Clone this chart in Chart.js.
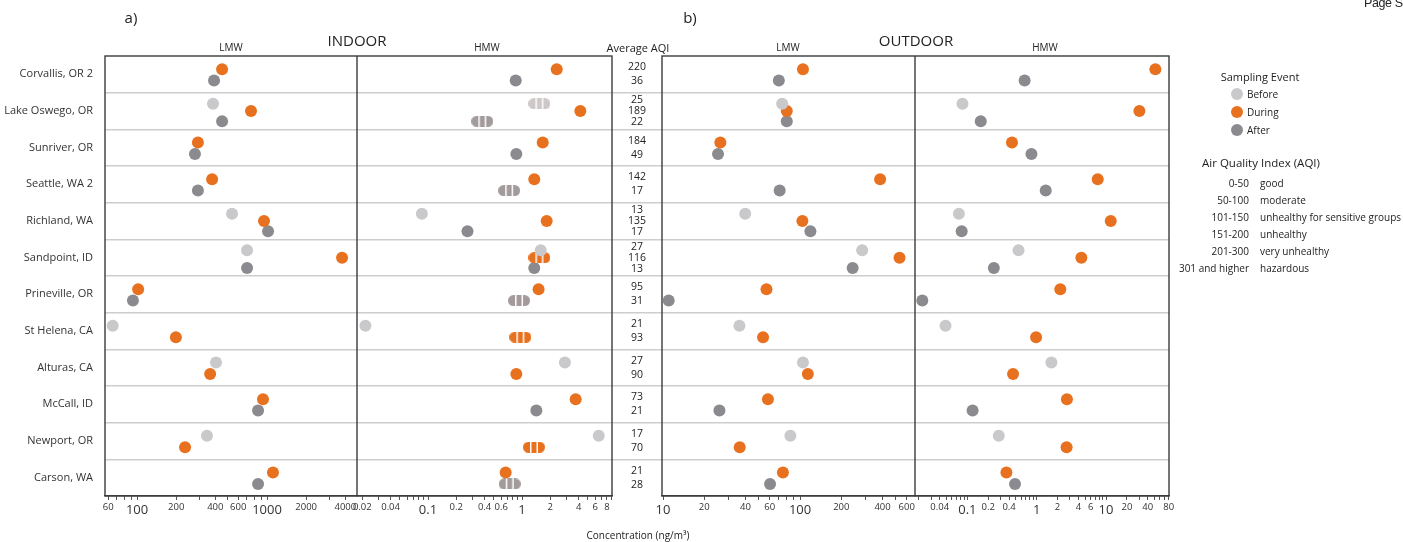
<!DOCTYPE html>
<html>
<head>
<meta charset="utf-8">
<script src="https://cdn.jsdelivr.net/npm/chart.js@4.4.1/dist/chart.umd.min.js"></script>
<style>
  body { margin: 0; background: #fff; font-family: "Open Sans", sans-serif; color: #222; }
  #wrap { position: relative; width: 1403px; height: 542px; overflow: hidden; }
  #wrap canvas { position: absolute; left: 0; top: 0; }
  .t { position: absolute; white-space: nowrap; line-height: 1; transform: translate(-50%, -50%); }
  .l { position: absolute; white-space: nowrap; line-height: 1; transform: translateY(-50%); }
  .r { position: absolute; white-space: nowrap; line-height: 1; transform: translate(-100%, -50%); }
  .dot { position: absolute; width: 12px; height: 12px; border-radius: 50%; transform: translate(-50%, -50%); }
</style>
</head>
<body>
<div id="wrap">
  <canvas id="chart" width="1403" height="542"></canvas>
  <div class="l" style="left:1364px;top:3px;font-size:12.5px;letter-spacing:-0.4px;font-family:Arial">Page S2</div>
  <div class="t" style="left:131px;top:17px;font-size:15px">a)</div>
  <div class="t" style="left:690px;top:17px;font-size:15px">b)</div>
  <div class="t" style="left:357px;top:40px;font-size:15px">INDOOR</div>
  <div class="t" style="left:916px;top:40px;font-size:15px">OUTDOOR</div>
  <div class="t" style="left:231px;top:47px;font-size:10px">LMW</div>
  <div class="t" style="left:487px;top:47px;font-size:10px">HMW</div>
  <div class="t" style="left:638px;top:47px;font-size:11px">Average AQI</div>
  <div class="t" style="left:788px;top:47px;font-size:10px">LMW</div>
  <div class="t" style="left:1045px;top:47px;font-size:10px">HMW</div>
  <div class="t" style="left:638px;top:535px;font-size:10px">Concentration (ng/m³)</div>
  <div class="t" style="left:1260px;top:76px;font-size:11px">Sampling Event</div>
  <div class="t" style="left:1261px;top:163px;font-size:11.5px">Air Quality Index (AQI)</div>
  <div id="legend"></div>
</div>
<script>
// sites, top to bottom
const sites = ['Corvallis, OR 2', 'Lake Oswego, OR', 'Sunriver, OR', 'Seattle, WA 2', 'Richland, WA', 'Sandpoint, ID',
  'Prineville, OR', 'St Helena, CA', 'Alturas, CA', 'McCall, ID', 'Newport, OR', 'Carson, WA'];

// average AQI per sampling event (null = not sampled)
const aqiBefore = [null, 25, null, null, 13, 27, null, 21, 27, null, 17, null];
const aqiDuring = [220, 189, 184, 142, 135, 116, 95, 93, 90, 73, 70, 21];
const aqiAfter  = [36, 22, 49, 17, 17, 13, 31, null, null, 21, null, 28];

// indoor LMW (ng/m3)
const indoorLmwBefore = [null, 384, null, null, 538, 702, null, 65, 405, null, 345, null];
const indoorLmwDuring = [451, 753, 294, 378, 948, 3776, 102, 199, 365, 931, 234, 1111];
const indoorLmwAfter  = [391, 451, 279, 294, 1018, 702, 93, null, null, 853, null, 853];

// indoor HMW (ng/m3)
const indoorHmwBefore = [null, 1.53, null, null, 0.086, 1.58, null, 0.0216, 2.86, null, 6.55, null];
const indoorHmwDuring = [2.34, 4.17, 1.66, 1.35, 1.83, 1.53, 1.5, 0.96, 0.87, 3.72, 1.34, 0.67];
const indoorHmwAfter  = [0.857, 0.378, 0.87, 0.73, 0.263, 1.35, 0.93, null, null, 1.42, null, 0.74];
// indoor HMW values shown as range markers (site indices)
const hmwRangeBefore = [1];
const hmwRangeDuring = [5, 7, 10];
const hmwRangeAfter  = [1, 3, 6, 11];

// outdoor LMW (ng/m3)
const outdoorLmwBefore = [null, 74, null, null, 39.8, 284, null, 36.1, 105, null, 85, null];
const outdoorLmwDuring = [105, 80, 26.2, 384, 104, 532, 56.9, 53.7, 114, 58.3, 36.3, 75];
const outdoorLmwAfter  = [70, 80, 25.2, 71, 119, 242, 11.0, null, null, 25.8, null, 60.4];

// outdoor HMW (ng/m3)
const outdoorHmwBefore = [null, 0.085, null, null, 0.0755, 0.547, null, 0.0484, 1.63, null, 0.284, null];
const outdoorHmwDuring = [51.5, 30.3, 0.44, 7.6, 11.7, 4.41, 2.19, 0.98, 0.456, 2.73, 2.7, 0.366];
const outdoorHmwAfter  = [0.67, 0.156, 0.84, 1.35, 0.0828, 0.241, 0.0224, null, null, 0.119, null, 0.487];

// axis tick labels
const ilLabels = [60, 100, 200, 400, 600, 1000, 2000, 4000];
const ilBig = [100, 1000];
const ihLabels = [0.02, 0.04, 0.1, 0.2, 0.4, 0.6, 1, 2, 4, 6, 8];
const ihBig = [0.1, 1];
const olLabels = [10, 20, 40, 60, 100, 200, 400, 600];
const olBig = [10, 100];
const ohLabels = [0.04, 0.1, 0.2, 0.4, 1, 2, 4, 6, 10, 20, 40, 80];
const ohBig = [0.1, 1, 10];

// legend
const eventNames = ['Before', 'During', 'After'];
const aqiRanges = ['0-50', '50-100', '101-150', '151-200', '201-300', '301 and higher'];
const aqiCategories = ['good', 'moderate', 'unhealthy for sensitive groups', 'unhealthy', 'very unhealthy', 'hazardous'];

const colors = { Before: '#c9c9cb', During: '#e8711f', After: '#8b8b8f' };
const pillColors = { Before: '#cdc7c7', During: '#e8711f', After: '#a39b9b' };
const FONT = 'Open Sans';

// legend html
const leg = document.getElementById('legend');
eventNames.forEach((n, i) => {
  const y = 94 + i * 18;
  leg.insertAdjacentHTML('beforeend',
    `<div class="dot" style="left:1237px;top:${y}px;background:${colors[n]}"></div>` +
    `<div class="l" style="left:1247px;top:${y}px;font-size:10px">${n}</div>`);
});
aqiRanges.forEach((r, i) => {
  const y = 183 + i * 17;
  leg.insertAdjacentHTML('beforeend',
    `<div class="r" style="left:1249px;top:${y}px;font-size:10px">${r}</div>` +
    `<div class="l" style="left:1260px;top:${y}px;font-size:10px">${aqiCategories[i]}</div>`);
});

// which events a site has, and vertical offsets inside its row
function eventsAt(i) {
  const ev = [];
  if (aqiBefore[i] != null) ev.push('Before');
  if (aqiDuring[i] != null) ev.push('During');
  if (aqiAfter[i] != null) ev.push('After');
  return ev;
}
function dotOffset(i, name) {
  const ev = eventsAt(i);
  const k = ev.indexOf(name);
  if (ev.length === 3) return [-0.2, 0, 0.28][k];
  if (ev.length === 2) return [-0.14, 0.17][k];
  return 0;
}

function makePill(color) {
  const c = document.createElement('canvas');
  c.width = 22; c.height = 11;
  const g = c.getContext('2d');
  g.fillStyle = color;
  g.beginPath();
  g.roundRect(0, 0, 22, 11, 5.5);
  g.fill();
  g.fillStyle = '#fff';
  g.fillRect(7, 0, 1.5, 11);
  g.fillRect(13.5, 0, 1.5, 11);
  return c;
}

function series(values, axis, name, ranges) {
  const pill = makePill(pillColors[name]);
  return {
    label: name,
    xAxisID: axis,
    yAxisID: 'y',
    data: values.map((v, i) => v == null ? null : { x: v, y: i + 0.5 + dotOffset(i, name), row: i }).filter(Boolean),
    backgroundColor: colors[name],
    borderWidth: 0,
    pointRadius: 6,
    pointStyle: c => (ranges && c.raw && ranges.includes(c.raw.row)) ? pill : 'circle'
  };
}

function logTicks(min, max) {
  const out = [];
  for (let e = Math.floor(Math.log10(min)); e <= Math.ceil(Math.log10(max)); e++) {
    for (let m = 1; m < 10; m++) {
      const v = Number((m * Math.pow(10, e)).toPrecision(3));
      if (v >= min && v <= max) out.push(v);
    }
  }
  return out;
}

function xAxis(min, max, labels, big, weight) {
  return {
    type: 'logarithmic', position: 'bottom', stack: 'conc', stackWeight: weight,
    min: min, max: max, bounds: 'data',
    afterBuildTicks: s => { s.ticks = logTicks(min, max).map(v => ({ value: v })); },
    afterFit: s => { s.height = 26; },
    grid: { display: true, drawOnChartArea: false, drawTicks: true, tickLength: 4, color: '#555', lineWidth: 1 },
    border: { display: true, color: '#444', width: 1.3 },
    ticks: {
      autoSkip: false, maxRotation: 0, minRotation: 0, padding: 2, color: '#333',
      font: c => ({ family: FONT, size: (c.tick && big.includes(c.tick.value)) ? 13 : 9.5 }),
      callback: v => labels.includes(v) ? String(v) : ''
    }
  };
}

const rowFrames = {
  id: 'rowFrames',
  beforeDatasetsDraw(chart) {
    const { ctx, chartArea: { top, bottom } } = chart;
    const s = chart.scales;
    ctx.save();
    ctx.strokeStyle = '#3b3b3b';
    ctx.lineWidth = 1.4;
    [[s.xIL, s.xIH], [s.xOL, s.xOH]].forEach(([a, b]) => {
      ctx.strokeRect(a.left, top, b.right - a.left, bottom - top);
      ctx.beginPath();
      ctx.moveTo(a.right, top);
      ctx.lineTo(a.right, bottom);
      ctx.stroke();
    });
    ctx.restore();
  },
  afterDatasetsDraw(chart) {
    const { ctx } = chart;
    const s = chart.scales;
    const x = (s.xIH.right + s.xOL.left) / 2;
    const aqi = { Before: aqiBefore, During: aqiDuring, After: aqiAfter };
    ctx.save();
    ctx.fillStyle = '#222';
    ctx.font = '10.5px "Open Sans"';
    ctx.textAlign = 'center';
    ctx.textBaseline = 'middle';
    sites.forEach((_, i) => {
      const ev = eventsAt(i);
      const offs = ev.length === 3 ? [-0.3, 0, 0.3] : ev.length === 2 ? [-0.19, 0.19] : [0];
      ev.forEach((n, k) => {
        ctx.fillText(String(aqi[n][i]), x, s.y.getPixelForValue(i + 0.5 + offs[k]));
      });
    });
    ctx.restore();
  }
};

new Chart(document.getElementById('chart'), {
  type: 'scatter',
  data: {
    datasets: [
      series(indoorLmwBefore, 'xIL', 'Before'),
      series(indoorLmwDuring, 'xIL', 'During'),
      series(indoorLmwAfter, 'xIL', 'After'),
      series(indoorHmwBefore, 'xIH', 'Before', hmwRangeBefore),
      series(indoorHmwDuring, 'xIH', 'During', hmwRangeDuring),
      series(indoorHmwAfter, 'xIH', 'After', hmwRangeAfter),
      series(outdoorLmwBefore, 'xOL', 'Before'),
      series(outdoorLmwDuring, 'xOL', 'During'),
      series(outdoorLmwAfter, 'xOL', 'After'),
      series(outdoorHmwBefore, 'xOH', 'Before'),
      series(outdoorHmwDuring, 'xOH', 'During'),
      series(outdoorHmwAfter, 'xOH', 'After')
    ]
  },
  options: {
    responsive: false,
    animation: false,
    events: [],
    layout: { padding: { left: 0, right: 234, top: 56, bottom: 20 } },
    plugins: { legend: { display: false }, tooltip: { enabled: false } },
    scales: {
      xIL: xAxis(56.7, 4920, ilLabels, ilBig, 252),
      xIH: xAxis(0.01757, 9.06, ihLabels, ihBig, 255),
      xGap: {
        type: 'linear', position: 'bottom', stack: 'conc', stackWeight: 50,
        grid: { display: false }, border: { display: false }, ticks: { display: false },
        afterFit: s => { s.height = 26; }
      },
      xOL: xAxis(9.83, 690, olLabels, olBig, 253),
      xOH: xAxis(0.01757, 81, ohLabels, ohBig, 254),
      y: {
        type: 'linear', position: 'left', min: 0, max: 12, reverse: true,
        afterBuildTicks: s => { s.ticks = sites.map((_, i) => ({ value: i + 0.5 })); },
        afterFit: s => { s.width = 105; },
        grid: { display: false }, border: { display: false },
        ticks: { autoSkip: false, padding: 4, color: '#333', font: { family: FONT, size: 11 },
          callback: v => sites[Math.floor(v)] }
      },
      ySep: {
        type: 'linear', position: 'right', min: 0, max: 12, reverse: true,
        afterBuildTicks: s => { s.ticks = sites.slice(1).map((_, i) => ({ value: i + 1 })); },
        afterFit: s => { s.width = 0; },
        grid: { color: '#cdcdcd', lineWidth: 1.5, drawTicks: false }, border: { display: false },
        ticks: { display: false }
      }
    }
  },
  plugins: [rowFrames]
});
</script>
</body>
</html>
